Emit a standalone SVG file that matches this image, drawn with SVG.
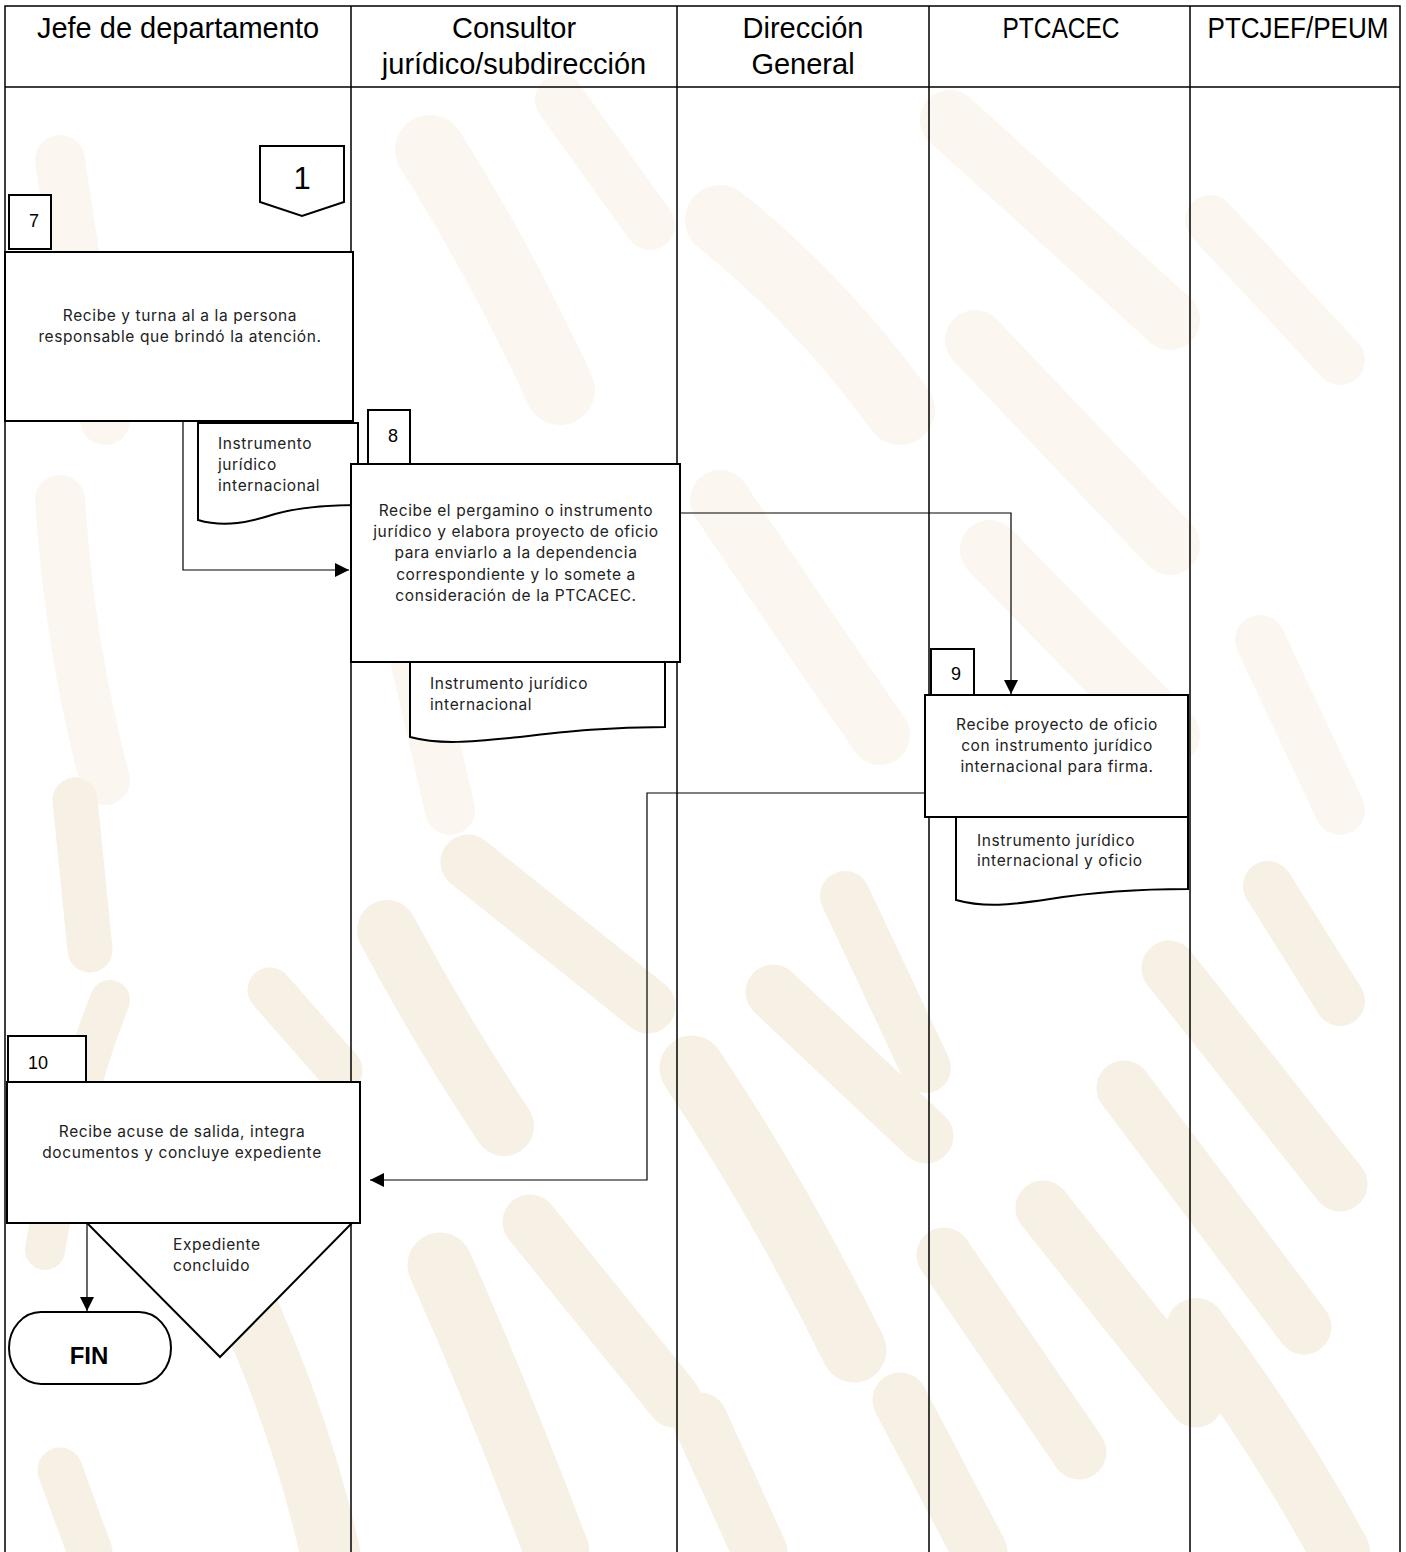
<svg xmlns="http://www.w3.org/2000/svg" width="1406" height="1552" viewBox="0 0 1406 1552">
<defs>
<style>
.wm{fill:none;stroke:#f7f0e4;stroke-linecap:round}
.wl{fill:none;stroke:#fbf7f0;stroke-linecap:round}
.grid{stroke:#000;stroke-width:1.5;fill:none}
.box{fill:#fff;stroke:#000;stroke-width:2}
.tab{fill:#fff;stroke:#000;stroke-width:2}
.hd{font-family:"Liberation Sans",Arial,sans-serif;font-size:29px;fill:#000;text-anchor:middle}
.tx{font-family:Inter,"Open Sans",sans-serif;font-size:15.5px;letter-spacing:0.6px;fill:#222}
.c{text-anchor:middle}
.num{font-family:"Liberation Sans",Arial,sans-serif;font-size:18px;fill:#000}
.con{fill:none;stroke:#000;stroke-width:1.2}
</style>
<marker id="ah" viewBox="0 0 10 10" refX="10" refY="5" markerWidth="14" markerHeight="14" markerUnits="userSpaceOnUse" orient="auto">
<path d="M0,0 L10,5 L0,10 Z" fill="#000"/>
</marker>
</defs>
<rect x="0" y="0" width="1406" height="1552" fill="#fff"/>
<g id="watermark">
<path class="wl" stroke-width="50" d="M60,160 Q80,300 105,420"/>
<path class="wl" stroke-width="70" d="M430,150 Q500,260 560,390"/>
<path class="wl" stroke-width="50" d="M560,100 L650,225"/>
<path class="wl" stroke-width="70" d="M720,220 Q820,300 900,410"/>
<path class="wl" stroke-width="60" d="M950,120 L1170,320"/>
<path class="wl" stroke-width="60" d="M975,340 L1170,545"/>
<path class="wl" stroke-width="50" d="M1210,220 L1340,360"/>
<path class="wl" stroke-width="50" d="M60,500 Q70,650 105,780"/>
<path class="wl" stroke-width="50" d="M390,550 Q420,680 450,810"/>
<path class="wl" stroke-width="60" d="M720,500 Q800,620 880,735"/>
<path class="wl" stroke-width="60" d="M990,550 L1170,735"/>
<path class="wl" stroke-width="50" d="M1260,640 L1340,810"/>
<path class="wm" stroke-width="45" d="M75,800 L90,950"/>
<path class="wm" stroke-width="40" d="M110,1000 Q70,1100 45,1250"/>
<path class="wm" stroke-width="45" d="M270,990 L340,1070"/>
<path class="wm" stroke-width="60" d="M240,1290 Q300,1420 330,1552"/>
<path class="wm" stroke-width="45" d="M60,1470 L90,1552"/>
<path class="wm" stroke-width="55" d="M468,862 L648,1006"/>
<path class="wm" stroke-width="60" d="M387,930 Q440,1030 504,1126"/>
<path class="wm" stroke-width="65" d="M440,1265 Q500,1400 557,1552"/>
<path class="wm" stroke-width="55" d="M530,1222 L674,1400"/>
<path class="wm" stroke-width="65" d="M692,1068 Q780,1200 854,1350"/>
<path class="wm" stroke-width="55" d="M773,992 L926,1136"/>
<path class="wm" stroke-width="50" d="M845,896 L926,1068"/>
<path class="wm" stroke-width="55" d="M944,1255 L1079,1452"/>
<path class="wm" stroke-width="55" d="M1043,1208 L1196,1400"/>
<path class="wm" stroke-width="55" d="M1169,968 L1340,1184"/>
<path class="wm" stroke-width="55" d="M1124,1088 L1304,1327"/>
<path class="wm" stroke-width="50" d="M1268,886 L1340,1001"/>
<path class="wm" stroke-width="60" d="M1196,1328 Q1280,1440 1340,1552"/>
<path class="wm" stroke-width="55" d="M700,1420 L760,1552"/>
<path class="wm" stroke-width="55" d="M900,1400 L980,1552"/>
</g>
<g id="table">
<path class="grid" d="M5,1552 V6 H1400 V1552"/>
<path class="grid" d="M5,87 H1400"/>
<path class="grid" d="M351,6 V1552 M677,6 V1552 M929,6 V1552 M1190,6 V1552"/>
<text class="hd" x="178" y="38">Jefe de departamento</text>
<text class="hd" x="514" y="38">Consultor</text>
<text class="hd" x="514" y="74">jurídico/subdirección</text>
<text class="hd" x="803" y="38">Dirección</text>
<text class="hd" x="803" y="74">General</text>
<text class="hd" x="1061" y="38" textLength="117" lengthAdjust="spacingAndGlyphs">PTCACEC</text>
<text class="hd" x="1298" y="38" textLength="181" lengthAdjust="spacingAndGlyphs">PTCJEF/PEUM</text>
</g>
<g id="connectors">
<path class="con" d="M183,421 V570 H349" marker-end="url(#ah)"/>
<path class="con" d="M680,513 H1011 V694" marker-end="url(#ah)"/>
<path class="con" d="M925,793 H647 V1180 H370" marker-end="url(#ah)"/>
<path class="con" d="M87,1223 V1311" marker-end="url(#ah)"/>
</g>
<g id="offpage1">
<path class="box" d="M260,146 H344 V202 L302,216 L260,202 Z"/>
<text x="302" y="189" text-anchor="middle" font-family="'Liberation Sans',Arial,sans-serif" font-size="31">1</text>
</g>
<g id="step7">
<rect class="tab" x="9" y="195" width="42" height="54"/>
<text class="num" x="34" y="227" text-anchor="middle">7</text>
<rect class="box" x="5" y="252" width="348" height="169"/>
<text class="tx c" x="180" y="321">Recibe y turna al a la persona</text>
<text class="tx c" x="180" y="342">responsable que brindó la atención.</text>
</g>
<g id="doc7">
<path class="box" d="M198,423 H358 V505 C330,505 300,507 275,514 C250,522 225,528 198,520 Z"/>
<text class="tx" x="218" y="449">Instrumento</text>
<text class="tx" x="218" y="470">jurídico</text>
<text class="tx" x="218" y="491">internacional</text>
</g>
<g id="doc8">
<path class="box" d="M410,650 H665 V727 C610,727 570,731 520,737 C470,742 440,745 410,737 Z"/>
<text class="tx" x="430" y="689">Instrumento jurídico</text>
<text class="tx" x="430" y="710">internacional</text>
</g>
<g id="step8">
<rect class="tab" x="368" y="410" width="42" height="54"/>
<text class="num" x="393" y="442" text-anchor="middle">8</text>
<rect class="box" x="351" y="464" width="329" height="198"/>
<text class="tx c" x="516" y="516">Recibe el pergamino o instrumento</text>
<text class="tx c" x="516" y="537">jurídico y elabora proyecto de oficio</text>
<text class="tx c" x="516" y="558">para enviarlo a la dependencia</text>
<text class="tx c" x="516" y="580">correspondiente y lo somete a</text>
<text class="tx c" x="516" y="601">consideración de la PTCACEC.</text>
</g>
<g id="doc9">
<path class="box" d="M956,805 H1188 V889 C1140,889 1100,891 1050,899 C1010,905 985,908 956,900 Z"/>
<text class="tx" x="977" y="846">Instrumento jurídico</text>
<text class="tx" x="977" y="866">internacional y oficio</text>
</g>
<g id="step9">
<rect class="tab" x="931" y="649" width="43" height="46"/>
<text class="num" x="956" y="680" text-anchor="middle">9</text>
<rect class="box" x="925" y="695" width="263" height="122"/>
<text class="tx c" x="1057" y="730">Recibe proyecto de oficio</text>
<text class="tx c" x="1057" y="751">con instrumento jurídico</text>
<text class="tx c" x="1057" y="772">internacional para firma.</text>
</g>
<g id="archive10">
<path class="box" d="M87,1223 L352,1223 L220,1357 Z"/>
<text class="tx" x="173" y="1250">Expediente</text>
<text class="tx" x="173" y="1271">concluido</text>
</g>
<g id="step10">
<rect class="tab" x="8" y="1036" width="78" height="46"/>
<text class="num" x="28" y="1069">10</text>
<rect class="box" x="7" y="1082" width="353" height="141"/>
<text class="tx c" x="182" y="1137">Recibe acuse de salida, integra</text>
<text class="tx c" x="182" y="1158">documentos y concluye expediente</text>
</g>
<g id="fin">
<rect class="box" x="9" y="1312" width="162" height="72" rx="32" ry="36"/>
<text x="89" y="1364" text-anchor="middle" font-family="'Liberation Sans',Arial,sans-serif" font-weight="bold" font-size="24">FIN</text>
</g>
</svg>
